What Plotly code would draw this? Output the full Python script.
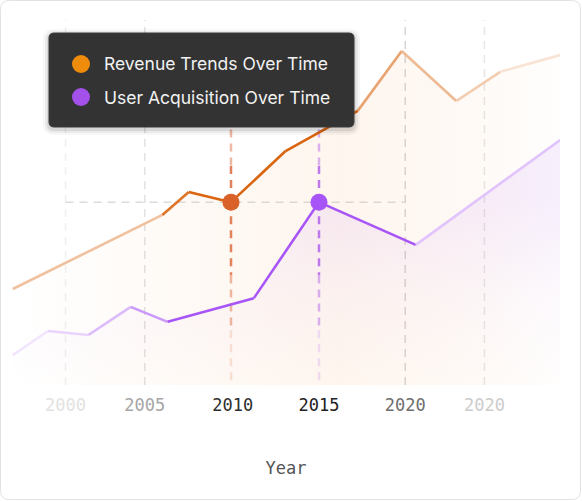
import plotly.graph_objects as go

# series (x in years, y in arbitrary units 0-100)
years_rev = [1997.6, 2006.1, 2007.6, 2010.0, 2013.1, 2017.2, 2019.7, 2022.8, 2025.3, 2028.7]
revenue = [26.3, 46.6, 52.9, 50.1, 64.1, 75.1, 91.5, 77.8, 85.8, 90.4]

years_users = [1997.6, 1999.6, 2001.9, 2004.3, 2006.4, 2011.3, 2015.0, 2020.5, 2028.7]
users = [8.2, 14.8, 13.7, 21.4, 17.3, 23.8, 50.1, 38.4, 67.1]

series_names = ["Revenue Trends Over Time", "User Acquisition Over Time"]
highlight_years = [2010.0, 2015.0]

tick_vals = [2000.6, 2005.1, 2010.1, 2015.0, 2019.9, 2024.4]
tick_text = ["2000", "2005", "2010", "2015", "2020", "2020"]

# styling
W, H = 582, 501
L, R, T, B = 12, 22, 20, 116
X_RANGE = [1997.557, 2028.693]
Y_RANGE = [0, 100]

REV_COLOR = (218, 101, 16)
USER_COLOR = (168, 85, 247)
rev_fade = [0.4, 0.9, 1, 1, 1, 0.6, 0.45, 0.33, 0.18]
user_fade = [0.15, 0.25, 0.4, 0.6, 1, 1, 1, 0.35]
tick_colors = ["#e2e2e2", "#a6a6a6", "#2e2e2e", "#222222", "#6e6e6e", "#cccccc"]
grid_colors = ["#f0f0f0", "#e2e2e2", None, None, "#d6d6d6", "#e6e6e6"]
MONO = "DejaVu Sans Mono"


def mix(rgb, a):
    r, g, b = [round(c * a + 255 * (1 - a)) for c in rgb]
    return f"rgb({r},{g},{b})"


def px(x, y):
    # pixel -> paper coords
    return (x - L) / (W - L - R), (H - B - y) / (H - T - B)


def rounded_rect(x0, y0, x1, y1, r):
    a0, b0 = px(x0, y0)
    a1, b1 = px(x1, y1)
    rx = r / (W - L - R)
    ry = r / (H - T - B)
    return (f"M {a0+rx},{b0} L {a1-rx},{b0} Q {a1},{b0} {a1},{b0-ry} "
            f"L {a1},{b1+ry} Q {a1},{b1} {a1-rx},{b1} L {a0+rx},{b1} "
            f"Q {a0},{b1} {a0},{b1+ry} L {a0},{b0-ry} Q {a0},{b0} {a0+rx},{b0} Z")


fig = go.Figure()

# gradient fills
fig.add_trace(go.Scatter(
    x=years_rev, y=revenue, mode="lines", line=dict(width=0), fill="tozeroy",
    fillgradient=dict(type="horizontal", colorscale=[
        [0, "rgba(245,150,70,0)"], [0.3, "rgba(245,150,70,0.05)"],
        [0.6, "rgba(245,150,70,0.09)"], [0.85, "rgba(245,150,70,0.05)"],
        [1, "rgba(245,150,70,0.01)"]]),
    hoverinfo="skip", showlegend=False))
fig.add_trace(go.Scatter(
    x=years_users, y=users, mode="lines", line=dict(width=0), fill="tozeroy",
    fillgradient=dict(type="vertical", start=0, stop=50, colorscale=[
        [0, "rgba(168,85,247,0)"], [0.5, "rgba(168,85,247,0.03)"],
        [1, "rgba(168,85,247,0.09)"]]),
    hoverinfo="skip", showlegend=False))

# lines drawn piece by piece so the ends can fade out
for xs, ys, base, fades in [(years_rev, revenue, REV_COLOR, rev_fade),
                            (years_users, users, USER_COLOR, user_fade)]:
    for i in range(len(xs) - 1):
        fig.add_trace(go.Scatter(
            x=xs[i:i + 2], y=ys[i:i + 2], mode="lines",
            line=dict(color=mix(base, fades[i]), width=2.6),
            hoverinfo="skip", showlegend=False))

shapes = []

# vertical gridlines
for tv, gc in zip(tick_vals, grid_colors):
    if gc is None:
        continue
    shapes.append(dict(type="line", xref="x", yref="y", x0=tv, x1=tv, y0=Y_RANGE[0], y1=Y_RANGE[1],
                       line=dict(color=gc, width=1.5, dash="8px,6px"), layer="below"))

# crosshair through the highlighted points
rev_hi = revenue[years_rev.index(highlight_years[0])]
user_hi = users[years_users.index(highlight_years[1])]
shapes.append(dict(type="line", xref="x", yref="y", x0=tick_vals[0], x1=tick_vals[4], y0=rev_hi, y1=rev_hi,
                   line=dict(color="#dcdcdc", width=1.5, dash="8px,6px"), layer="below"))

for hx, base in [(highlight_years[0], (217, 98, 50)), (highlight_years[1], USER_COLOR)]:
    pieces = [(70, 60, 0.45), (60, 50.1, 0.8), (50.1, 30, 0.8), (30, 15, 0.45), (15, 1, 0.18)]
    for ya, yb, a in pieces:
        shapes.append(dict(type="line", xref="x", yref="y", x0=hx, x1=hx, y0=ya, y1=yb,
                           line=dict(color=mix(base, a), width=2.5, dash="8px,6px"), layer="below"))

fig.add_trace(go.Scatter(
    x=highlight_years, y=[rev_hi, user_hi], mode="markers",
    marker=dict(size=17, color=["#d9622b", "#a855f7"], line=dict(width=0)),
    hoverinfo="skip", showlegend=False))

# legend box
for grow, a in [(6, 0.03), (4, 0.05), (2, 0.08)]:
    shapes.append(dict(type="path", xref="paper", yref="paper",
                       path=rounded_rect(49 - grow, 33 - grow + 2, 354 + grow, 127 + grow + 2, 5 + grow),
                       fillcolor=f"rgba(0,0,0,{a})", line=dict(width=0), layer="above"))
shapes.append(dict(type="path", xref="paper", yref="paper", path=rounded_rect(49, 33, 354, 127, 5),
                   fillcolor="#333333", line=dict(color="#3a3a3a", width=1), layer="above"))

annotations = []
for i, (name, dot) in enumerate(zip(series_names, ["#ef8c0c", "#a450ea"])):
    cy = 64 + i * 33
    x0, y0 = px(72, cy - 9)
    x1, y1 = px(90, cy + 9)
    shapes.append(dict(type="circle", xref="paper", yref="paper", x0=x0, x1=x1, y0=y0, y1=y1,
                       fillcolor=dot, line=dict(width=0), layer="above"))
    tx, ty = px(102, cy)
    annotations.append(dict(xref="paper", yref="paper", x=tx, y=ty, text=name, showarrow=False,
                            xanchor="left", yanchor="middle",
                            font=dict(family="Inter", size=17.5, color="#f2f2f2")))

# card border
shapes.append(dict(type="path", xref="paper", yref="paper", path=rounded_rect(0.5, 0.5, 580.5, 499.5, 9),
                   line=dict(color="#e2e2e2", width=1), layer="above"))

fig.update_layout(
    width=W, height=H, autosize=False,
    margin=dict(l=L, r=R, t=T, b=B),
    paper_bgcolor="white", plot_bgcolor="rgba(0,0,0,0)",
    xaxis=dict(range=X_RANGE, showgrid=False, zeroline=False, showline=False,
               tickmode="array", tickvals=tick_vals,
               ticktext=[f'<span style="color:{c}">{t}</span>' for t, c in zip(tick_text, tick_colors)],
               tickfont=dict(family=MONO, size=17), ticks="", ticklabelstandoff=8,
               title=dict(text="Year", font=dict(family=MONO, size=17, color="#555555"), standoff=48)),
    yaxis=dict(range=Y_RANGE, visible=False),
    shapes=shapes, annotations=annotations,
    showlegend=False,
)

fig.write_html("out.html", config={"displayModeBar": False},
               post_script="document.body.style.margin='0';")
